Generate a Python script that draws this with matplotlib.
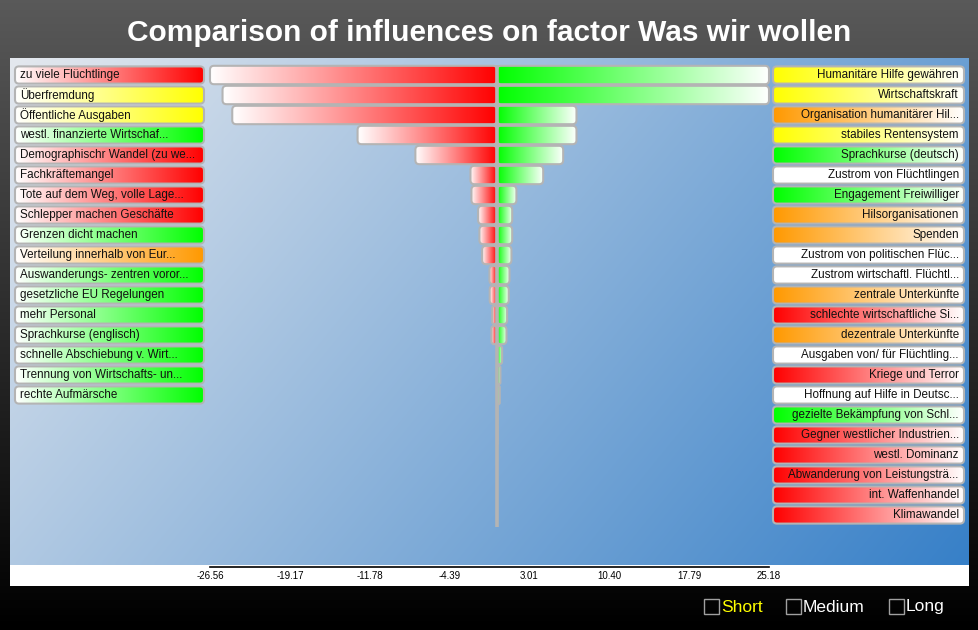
import matplotlib.pyplot as plt
import numpy as np
from matplotlib.patches import FancyBboxPatch, Rectangle
from matplotlib.colors import to_rgb

plt.rcParams['font.family'] = ['Liberation Sans', 'DejaVu Sans']

# ---- data ----
title = "Comparison of influences on factor Was wir wollen"

left_labels = ["zu viele Flüchtlinge", "Überfremdung", "Öffentliche Ausgaben",
               "westl. finanzierte Wirtschaf...", "Demographischr Wandel (zu we...",
               "Fachkräftemangel", "Tote auf dem Weg, volle Lage...",
               "Schlepper machen Geschäfte", "Grenzen dicht machen",
               "Verteilung innerhalb von Eur...", "Auswanderungs- zentren voror...",
               "gesetzliche EU Regelungen", "mehr Personal", "Sprachkurse (englisch)",
               "schnelle Abschiebung v. Wirt...", "Trennung von Wirtschafts- un...",
               "rechte Aufmärsche"]
left_colors = ["red", "yellow", "yellow", "green", "red", "red", "red", "red", "green",
               "orange", "green", "green", "green", "green", "green", "green", "green"]

right_labels = ["Humanitäre Hilfe gewähren", "Wirtschaftskraft",
                "Organisation humanitärer Hil...", "stabiles Rentensystem",
                "Sprachkurse (deutsch)", "Zustrom von Flüchtlingen",
                "Engagement Freiwilliger", "Hilsorganisationen", "Spenden",
                "Zustrom von politischen Flüc...", "Zustrom wirtschaftl. Flüchtl...",
                "zentrale Unterkünfte", "schlechte wirtschaftliche Si...",
                "dezentrale Unterkünfte", "Ausgaben von/ für Flüchtling...",
                "Kriege und Terror", "Hoffnung auf Hilfe in Deutsc...",
                "gezielte Bekämpfung von Schl...", "Gegner westlicher Industrien...",
                "westl. Dominanz", "Abwanderung von Leistungsträ...",
                "int. Waffenhandel", "Klimawandel"]
right_colors = ["yellow", "yellow", "orange", "yellow", "green", "white", "green",
                "orange", "orange", "white", "white", "orange", "red", "orange",
                "white", "red", "white", "green", "red", "red", "red", "red", "red"]

# negative influences (per row) and positive influences (per row)
neg_values = [-26.56, -25.4, -24.5, -12.9, -7.55, -2.45, -2.36, -1.74, -1.62,
              -1.37, -0.69, -0.67, -0.44, -0.51, 0, 0, 0]
pos_values = [25.18, 25.18, 7.36, 7.36, 6.13, 4.28, 1.8, 1.41, 1.41, 1.34, 1.16,
              1.09, 0.94, 0.88, 0.48, 0.32, 0.26, 0.05, 0.05, 0, 0, 0, 0]

tick_labels = ["-26.56", "-19.17", "-11.78", "-4.39", "3.01", "10.40", "17.79", "25.18"]
legend_items = ["Short", "Medium", "Long"]
legend_colors = ["#ffff00", "white", "white"]

palette = {"red": "#ff0000", "yellow": "#ffff00", "green": "#00ff00",
           "orange": "#ff9900", "white": "#ffffff"}

# ---- layout ----
W, H = 979, 630
fig = plt.figure(figsize=(W / 100, H / 100), dpi=100)


def px_axes(x0, y0, x1, y1, **kw):
    return fig.add_axes([x0 / W, 1 - y1 / H, (x1 - x0) / W, (y1 - y0) / H], **kw)


def grad_img(c0, c1):
    t = np.linspace(0, 1, 256)[None, :, None]
    return (1 - t) * np.array(to_rgb(c0)) + t * np.array(to_rgb(c1))


def gradient_box(ax, x0, x1, yc, h, c0, c1, ppx, ppy, r_px=4, lw=1.5, z=2):
    w = x1 - x0
    m = ppx / ppy
    r = min(r_px / ppx, abs(w) / 2, h / (2 * m))
    patch = FancyBboxPatch((x0, yc - h / 2), w, h,
                           boxstyle="round,pad=0,rounding_size=%f" % r,
                           mutation_aspect=m, fc="none", ec="#b4b4b4", lw=lw,
                           zorder=z + 1, clip_on=False)
    ax.add_patch(patch)
    im = ax.imshow(grad_img(c0, c1), extent=(x0, x1, yc + h / 2, yc - h / 2),
                   aspect="auto", interpolation="bilinear", zorder=z)
    im.set_clip_path(patch)


# background
bg = fig.add_axes([0, 0, 1, 1], zorder=-10)
bg.set_axis_off()
vt = np.linspace(0, 1, 256)[:, None, None]
top, bot = np.array([0.35, 0.35, 0.35]), np.array([0.01, 0.01, 0.01])
bg.imshow(np.clip((1 - vt * 1.03) * top + vt * 1.03 * bot, 0, 1),
          extent=(0, W, H, 0), aspect="auto")
gx, gy = np.meshgrid(np.linspace(0, 1, 200), np.linspace(0, 1, 120))
gt = (0.7 * gx + 0.3 * gy)[:, :, None]
c_tl, c_br = np.array([228, 232, 238]) / 255, np.array([55, 128, 200]) / 255
bg.imshow((1 - gt) * c_tl + gt * c_br, extent=(10, 969, 565, 58), aspect="auto",
          interpolation="bilinear")
bg.add_patch(Rectangle((10, 565), 959, 21, fc="white", ec="none"))
bg.set_xlim(0, W)
bg.set_ylim(H, 0)

bg.text(489, 33, title, color="white", fontsize=21.5, fontweight="bold",
        ha="center", va="center")

# legend
box_x = [704, 786, 889]
for bx, lab, col in zip(box_x, legend_items, legend_colors):
    bg.add_patch(Rectangle((bx, 599), 15, 15, fc="none", ec="#a0a0a0", lw=1))
    bg.text(bx + 17, 607, lab, color=col, fontsize=12.5, ha="left", va="center")

# bar axes
ylim = (24.6, -0.85)
xlim = (-26.56, 25.18)
ax = px_axes(210, 58, 769, 567, facecolor="none")
ax.set_xlim(*xlim)
ax.set_ylim(*ylim)
ppx = 559 / (xlim[1] - xlim[0])
ppy = 509 / (ylim[0] - ylim[1])

for k, v in enumerate(neg_values):
    if v < 0:
        gradient_box(ax, v, 0, k, 0.92, "white", palette["red"], ppx, ppy)
for k, v in enumerate(pos_values):
    if v > 0:
        gradient_box(ax, 0, v, k, 0.92, palette["green"], "white", ppx, ppy)

ax.vlines(0, -0.5, 22.6, color="#b4b4b4", lw=2.6, zorder=10)

ax.set_xticks([float(t) for t in tick_labels], tick_labels)
ax.tick_params(axis="x", length=0, pad=3, labelsize=7, colors="black")
ax.set_yticks([])
for s in ["top", "left", "right"]:
    ax.spines[s].set_visible(False)
ax.spines["bottom"].set_color("black")
ax.spines["bottom"].set_linewidth(1.2)
ax.set_xlim(*xlim)
ax.set_ylim(*ylim)

# label boxes
lax = px_axes(15, 58, 204, 567, facecolor="none")
rax = px_axes(773, 58, 964, 567, facecolor="none")
for a in (lax, rax):
    a.set_axis_off()
    a.set_xlim(0, 1)
    a.set_ylim(*ylim)

lppx, rppx = 189.0, 191.0
for k, (lab, c) in enumerate(zip(left_labels, left_colors)):
    gradient_box(lax, 0, 1, k, 0.86, "white", palette[c], lppx, ppy, r_px=4)
    lax.text(0.027, k, lab, fontsize=8.4, ha="left", va="center", color="#111111",
             zorder=5)
for k, (lab, c) in enumerate(zip(right_labels, right_colors)):
    gradient_box(rax, 0, 1, k, 0.86, palette[c], "white", rppx, ppy, r_px=4)
    rax.text(0.973, k, lab, fontsize=8.4, ha="right", va="center", color="#111111",
             zorder=5)
for a in (lax, rax):
    a.set_xlim(0, 1)
    a.set_ylim(*ylim)

fig.savefig("out.png", dpi=100)
